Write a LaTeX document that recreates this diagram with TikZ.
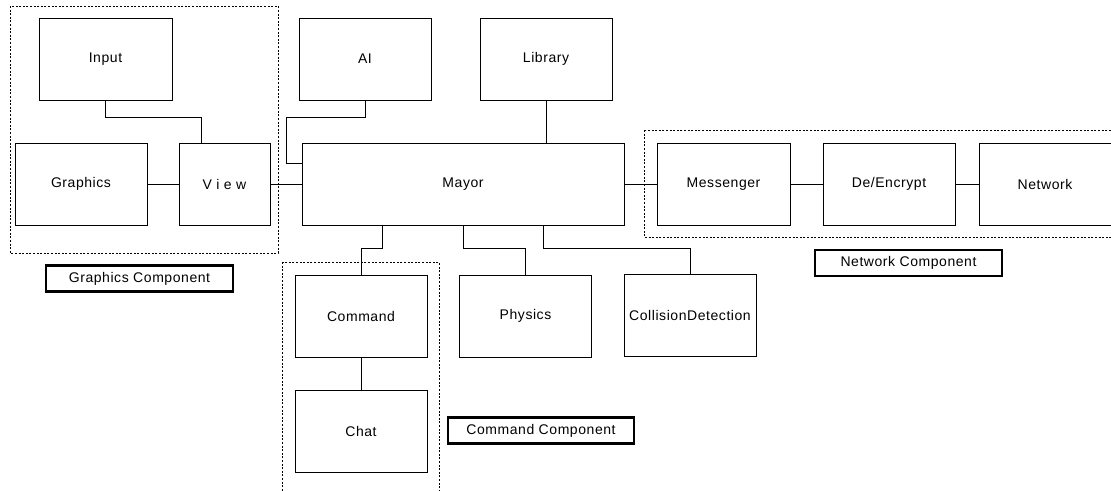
\documentclass[tikz,border=0pt]{standalone}
\usepackage{fontspec}
\setmainfont{Liberation Sans}[LetterSpace=4]
\usetikzlibrary{positioning, calc}

\begin{document}
\begin{tikzpicture}[
  x=0.75pt, y=-0.75pt,
  box/.style={draw, line width=0.75pt, minimum width=#1, minimum height=61.5pt,
    inner sep=0pt, font=\fontsize{10.5}{12}\selectfont},
  box/.default=99pt,
  tag/.style={draw, line width=1.6pt, minimum width=140pt, minimum height=19.5pt,
    inner sep=0pt, font=\fontsize{10.5}{12}\selectfont},
  group/.style={draw, line width=0.75pt, dash pattern=on 1.5pt off 1.2pt},
  wire/.style={line width=0.75pt}
]
\useasboundingbox (0,0) rectangle (1111,490);
\clip (0,0) rectangle (1111,490);

% Graphics component
\node[box=99.75pt] (input) at (105.5, 59) {Input};
\node[box] (graphics) at (81, 184) {Graphics};
\node[box=68.25pt] (view) at (224.5, 184) {V i e w};
\draw[group] (10, 6) rectangle (278, 253);
\node[tag] (gfxtag) at (139.5, 278.5) {Graphics Component};

% Core
\node[box] (ai) at (365, 59) {AI};
\node[box] (library) at (546, 59) {Library};
\node[box=241.5pt] (mayor) at (463, 184) {Mayor};

% Network component
\node[box=99.75pt] (messenger) at (723.5, 184) {Messenger};
\node[box] (crypt) at (889, 184) {De/Encrypt};
\node[box] (network) at (1045, 184) {Network};
\draw[group] (644, 130) rectangle (1125, 237);
\node[tag] (nettag) at (908.5, 263) {Network Component};

% Command component
\node[box] (command) at (361, 316) {Command};
\node[box, below=24pt of command] (chat) {Chat};
\draw[group] (282, 262) rectangle (439, 500);
\node[tag] (cmdtag) at (541, 430.5) {Command Component};

% Mayor children
\node[box] (physics) at (525.5, 316) {Physics};
\node[box] (collision) at (690, 315.5) {CollisionDetection};

% Connectors
\draw[wire] (input.south) -- ++(0, 17) -| ($(view.north west)!0.25!(view.north east)$);
\draw[wire] (graphics) -- (view);
\draw[wire] (view) -- (mayor);
\draw[wire] (ai.south) -- ++(0, 17) -- ++(-79, 0)
  |- ($(mayor.north west)!0.25!(mayor.south west)$);
\draw[wire] (library.south) -- (library.south |- mayor.north);
\draw[wire] (mayor) -- (messenger);
\draw[wire] (messenger) -- (crypt);
\draw[wire] (crypt) -- (network);
\draw[wire] ($(mayor.south west)!0.25!(mayor.south east)$) -- ++(0, 23) -| (command.north);
\draw[wire] ($(mayor.south west)!0.5!(mayor.south east)$) -- ++(0, 23) -| (physics.north);
\draw[wire] ($(mayor.south west)!0.75!(mayor.south east)$) -- ++(0, 23) -| (collision.north);
\draw[wire] (command) -- (chat);

\end{tikzpicture}
\end{document}
